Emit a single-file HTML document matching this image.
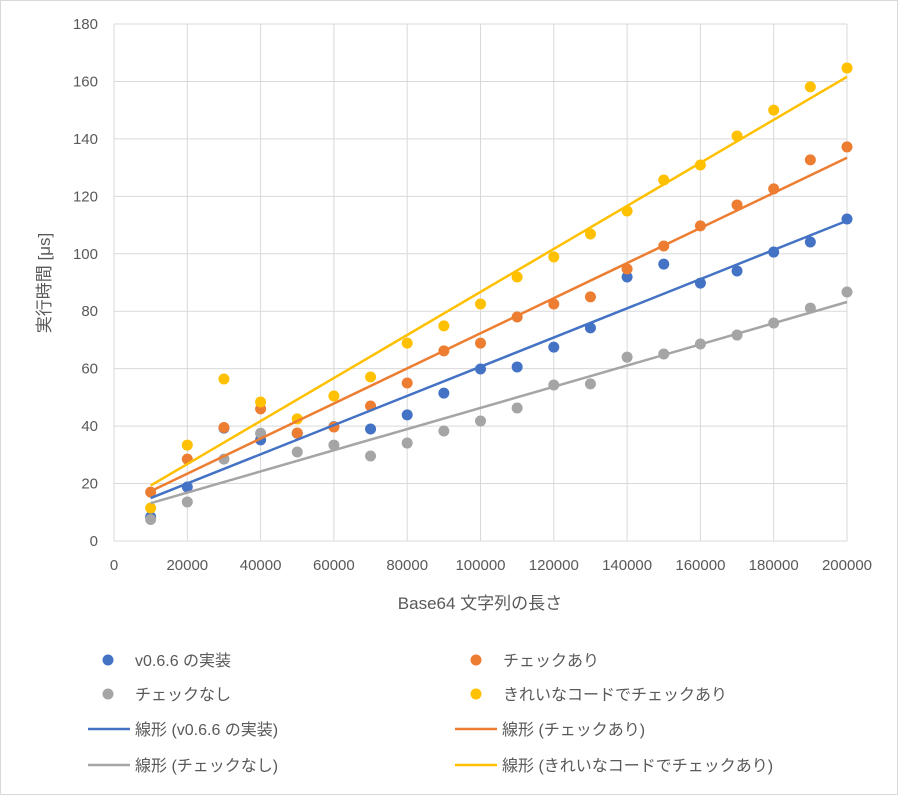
<!DOCTYPE html>
<html><head><meta charset="utf-8"><style>
body{margin:0;background:#fff;}
svg{display:block;font-family:"Liberation Sans","Noto Sans CJK JP",sans-serif;}
</style></head><body>
<svg id="c" width="898" height="795">
<rect x="0.5" y="0.5" width="897" height="794" fill="#fff" stroke="#d9d9d9"/>
<g id="grid"></g><g id="marks"></g><g id="ticks"></g>
<text x="480" y="609" text-anchor="middle" font-size="17" fill="#595959">Base64 文字列の長さ</text>
<text transform="translate(50,283) rotate(-90)" text-anchor="middle" font-size="17" fill="#595959">実行時間 [μs]</text>
<g id="legend"></g>
</svg>
<script>
const xs=[10000,20000,30000,40000,50000,60000,70000,80000,90000,100000,110000,120000,130000,140000,150000,160000,170000,180000,190000,200000];
const blue=[8.4,18.8,39.3,35.2,37.5,39.8,39,43.9,51.5,59.9,60.6,67.5,74.2,91.9,96.4,89.8,94,100.6,104.1,112.1];
const orange=[17,28.5,39.5,46,37.6,39.7,47,55,66.2,68.9,78,82.5,85,94.7,102.7,109.7,117,122.6,132.7,137.2];
const gray=[7.5,13.6,28.5,37.5,31,33.4,29.6,34.1,38.3,41.8,46.3,54.3,54.7,64,65.1,68.6,71.7,75.9,81.1,86.7];
const yellow=[11.5,33.4,56.4,48.4,42.5,50.5,57.1,68.9,74.9,82.5,91.9,98.9,106.9,114.9,125.7,130.9,141,150,158.1,164.7];
const xTicks=[0,20000,40000,60000,80000,100000,120000,140000,160000,180000,200000];
const yTicks=[0,20,40,60,80,100,120,140,160,180];
const seriesNames=["v0.6.6 の実装","チェックあり","チェックなし","きれいなコードでチェックあり"];
const colors=["#4472c4","#ed7d31","#a5a5a5","#ffc000"];
const series=[blue,orange,gray,yellow];
const X=v=>114+v/200000*733, Y=v=>541-v/180*517;
const NS="http://www.w3.org/2000/svg";
function mk(t,a,p){const e=document.createElementNS(NS,t);for(const k in a)e.setAttribute(k,a[k]);p.appendChild(e);return e;}
const grid=document.getElementById('grid'),marks=document.getElementById('marks'),ticks=document.getElementById('ticks'),leg=document.getElementById('legend');
xTicks.forEach(v=>{const l=mk('line',{x1:X(v),x2:X(v),y1:Y(0),y2:Y(180),stroke:'#d9d9d9'},grid);

const t=mk('text',{x:X(v),y:570,'text-anchor':'middle','font-size':15,fill:'#595959'},ticks);t.textContent=v;
});
yTicks.forEach(v=>{const l=mk('line',{x1:X(0),x2:X(200000),y1:Y(v),y2:Y(v),stroke:'#d9d9d9'},grid);

const t=mk('text',{x:98,y:Y(v)+5,'text-anchor':'end','font-size':15,fill:'#595959'},ticks);t.textContent=v;
});
function fit(ys){const n=xs.length;let sx=0,sy=0,sxx=0,sxy=0;xs.forEach((x,i)=>{sx+=x;sy+=ys[i];sxx+=x*x;sxy+=x*ys[i];});
const b=(n*sxy-sx*sy)/(n*sxx-sx*sx);return[b,(sy-b*sx)/n];}
series.forEach((ys,s)=>{xs.forEach((x,i)=>{const c=mk('circle',{cx:X(x),cy:Y(ys[i]),r:5.5,fill:colors[s]},marks);
});});
series.forEach((ys,s)=>{const[b,a]=fit(ys);const x0=xs[0],x1=xs[xs.length-1];
const l=mk('line',{x1:X(x0),y1:Y(a+b*x0),x2:X(x1),y2:Y(a+b*x1),stroke:colors[s],'stroke-width':2.5},marks);
});
const pos=[[0,0],[1,0],[0,1],[1,1]];
seriesNames.forEach((n,s)=>{const cx=[108,476][pos[s][0]],y=[660,694][pos[s][1]];
const c=mk('circle',{cx:cx,cy:y,r:5.5,fill:colors[s]},leg);
const t=mk('text',{x:cx+27,y:y+6,'font-size':16,fill:'#595959'},leg);t.textContent=n;

const y2=[729,765][pos[s][1]],lx=[88,455][pos[s][0]];
const l=mk('line',{x1:lx,x2:lx+42,y1:y2,y2:y2,stroke:colors[s],'stroke-width':2.5},leg);

const t2=mk('text',{x:lx+47,y:y2+6,'font-size':16,fill:'#595959'},leg);t2.textContent='線形 ('+n+')';
});
</script>
</body></html>
